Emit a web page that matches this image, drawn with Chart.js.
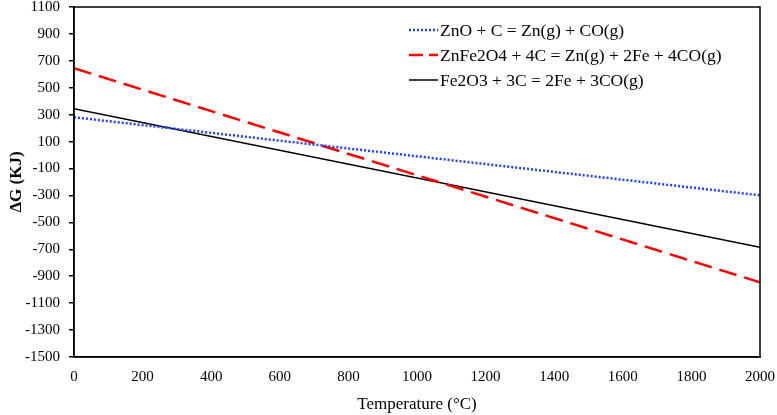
<!DOCTYPE html>
<html>
<head>
<meta charset="utf-8">
<script src="https://cdn.jsdelivr.net/npm/chart.js@4/dist/chart.umd.min.js"></script>
<style>
html,body{margin:0;padding:0;background:#fff;}
#wrap{width:777px;height:415px;}
</style>
</head>
<body>
<div id="wrap"><canvas id="c" width="777" height="415"></canvas></div>
<script>
const labels = ["ZnO + C = Zn(g) + CO(g)", "ZnFe2O4 + 4C = Zn(g) + 2Fe + 4CO(g)", "Fe2O3 + 3C = 2Fe + 3CO(g)"];
const temperatures = [0, 2000];
const znoValues = [281, -299];
const znfe2o4Values = [645, -945];
const fe2o3Values = [345, -685];
const xTicks = [0,200,400,600,800,1000,1200,1400,1600,1800,2000];
const yTicks = [-1500,-1300,-1100,-900,-700,-500,-300,-100,100,300,500,700,900,1100];

const toPts = (vals) => temperatures.map((t, i) => ({x: t, y: vals[i]}));
const FONT = "'Liberation Serif', 'Times New Roman', serif";

const boxPlugin = {
  id: 'box',
  afterDraw(chart) {
    const {ctx, chartArea: a} = chart;
    ctx.save();
    ctx.strokeStyle = '#000';
    ctx.lineWidth = 1.5;
    ctx.strokeRect(a.left, a.top, a.right - a.left, a.bottom - a.top);
    ctx.restore();
  }
};

const legendPlugin = {
  id: 'inlegend',
  afterDraw(chart) {
    const {ctx} = chart;
    ctx.save();
    ctx.font = '17.5px ' + FONT;
    ctx.textBaseline = 'middle';
    chart.data.datasets.forEach((ds, i) => {
      const y = 30 + i * 25;
      ctx.beginPath();
      ctx.strokeStyle = ds.borderColor;
      ctx.lineWidth = ds.borderWidth;
      ctx.setLineDash(ds.legendDash || ds.borderDash || []);
      ctx.moveTo(409, y);
      ctx.lineTo(438, y);
      ctx.stroke();
      ctx.setLineDash([]);
      ctx.fillStyle = '#000';
      ctx.fillText(ds.label, 440, y + 1);
    });
    ctx.restore();
  }
};

new Chart(document.getElementById('c'), {
  type: 'line',
  data: {
    datasets: [
      {label: labels[0], data: toPts(znoValues), borderColor: '#1f3fff', borderWidth: 2.5, borderDash: [2, 2], pointRadius: 0, fill: false},
      {label: labels[1], data: toPts(znfe2o4Values), borderColor: '#ff0000', borderWidth: 2.5, borderDash: [18, 8], legendDash: [14, 6], pointRadius: 0, fill: false},
      {label: labels[2], data: toPts(fe2o3Values), borderColor: '#000000', borderWidth: 1.5, pointRadius: 0, fill: false}
    ]
  },
  options: {
    responsive: false,
    animation: false,
    layout: {padding: {top: 7, right: 17, left: 0, bottom: 0}},
    plugins: {legend: {display: false}, tooltip: {enabled: false}},
    scales: {
      x: {
        type: 'linear', min: 0, max: 2000,
        afterBuildTicks: (s) => { s.ticks = xTicks.map(v => ({value: v})); },
        afterFit: (s) => { s.height = 58; s.paddingRight = 0; s.paddingLeft = 0; },
        grid: {display: false},
        border: {display: true, color: '#000', width: 1.5},
        ticks: {color: '#000', font: {family: FONT, size: 15}, padding: 3, maxRotation: 0, callback: (v) => String(v)},
        title: {display: true, text: 'Temperature (°C)', color: '#000', font: {family: FONT, size: 17}, padding: {top: 6, bottom: 0}}
      },
      y: {
        type: 'linear', min: -1500, max: 1100,
        afterBuildTicks: (s) => { s.ticks = yTicks.map(v => ({value: v})); },
        afterFit: (s) => { s.width = 74; s.paddingTop = 0; s.paddingBottom = 0; },
        grid: {display: true, drawOnChartArea: false, drawTicks: true, tickLength: 5, color: '#000', lineWidth: 1.5},
        border: {display: true, color: '#000', width: 1.5},
        ticks: {color: '#000', font: {family: FONT, size: 15}, padding: 9, callback: (v) => String(v)},
        title: {display: true, text: 'ΔG (KJ)', color: '#000', font: {family: FONT, size: 17, weight: 'bold'}, padding: {top: 6, bottom: 2}}
      }
    }
  },
  plugins: [boxPlugin, legendPlugin]
});
</script>
</body>
</html>
